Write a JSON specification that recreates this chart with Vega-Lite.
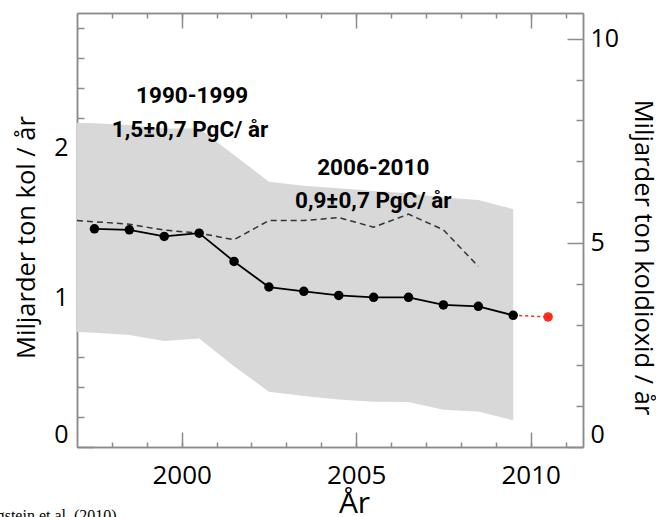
{
  "$schema": "https://vega.github.io/schema/vega-lite/v6.json",
  "width": 506,
  "height": 434,
  "autosize": "none",
  "padding": {"left": 77, "top": 13, "right": 73, "bottom": 70},
  "background": "white",
  "title": {"text": "Friedlingstein et al. (2010)", "orient": "bottom", "anchor": "start", "frame": "group", "font": "Liberation Serif", "fontSize": 16, "fontWeight": "normal", "color": "#000", "dx": -131, "offset": -10},
  "config": {
    "view": {"stroke": null},
    "axis": {"domainColor": "#8c8c8c", "tickColor": "#8c8c8c", "domainWidth": 1.5, "tickWidth": 1.5, "grid": false, "labelFont": "Open Sans", "labelColor": "#000", "titleFont": "Open Sans", "titleFontWeight": "normal", "titleColor": "#000"}
  },
  "datasets": {
    "band": [
      {"year": 1997.0, "lo": 0.769, "hi": 2.167},
      {"year": 1997.5, "lo": 0.763, "hi": 2.163},
      {"year": 1998.5, "lo": 0.749, "hi": 2.151},
      {"year": 1999.5, "lo": 0.709, "hi": 2.129},
      {"year": 2000.5, "lo": 0.725, "hi": 2.129},
      {"year": 2001.5, "lo": 0.54, "hi": 1.951},
      {"year": 2002.5, "lo": 0.369, "hi": 1.773},
      {"year": 2003.5, "lo": 0.34, "hi": 1.745},
      {"year": 2004.5, "lo": 0.318, "hi": 1.729},
      {"year": 2005.5, "lo": 0.303, "hi": 1.711},
      {"year": 2006.5, "lo": 0.3, "hi": 1.696},
      {"year": 2007.5, "lo": 0.249, "hi": 1.667},
      {"year": 2008.5, "lo": 0.238, "hi": 1.651},
      {"year": 2009.5, "lo": 0.178, "hi": 1.589}
    ],
    "sink": [
      {"year": 1997.5, "value": 1.458},
      {"year": 1998.5, "value": 1.451},
      {"year": 1999.5, "value": 1.407},
      {"year": 2000.5, "value": 1.429},
      {"year": 2001.5, "value": 1.24},
      {"year": 2002.5, "value": 1.069},
      {"year": 2003.5, "value": 1.04},
      {"year": 2004.5, "value": 1.013},
      {"year": 2005.5, "value": 1.0},
      {"year": 2006.5, "value": 1.0},
      {"year": 2007.5, "value": 0.949},
      {"year": 2008.5, "value": 0.94},
      {"year": 2009.5, "value": 0.88}
    ],
    "projection": [
      {"year": 2009.5, "value": 0.88},
      {"year": 2010.5, "value": 0.869}
    ],
    "projpoint": [
      {"year": 2010.5, "value": 0.869}
    ],
    "dashed": [
      {"year": 1997.0, "value": 1.513},
      {"year": 1998.5, "value": 1.489},
      {"year": 1999.5, "value": 1.449},
      {"year": 2000.5, "value": 1.429},
      {"year": 2001.5, "value": 1.385},
      {"year": 2002.5, "value": 1.513},
      {"year": 2003.5, "value": 1.513},
      {"year": 2004.5, "value": 1.533},
      {"year": 2005.5, "value": 1.469},
      {"year": 2006.5, "value": 1.556},
      {"year": 2007.5, "value": 1.451},
      {"year": 2008.5, "value": 1.207}
    ],
    "notes": [
      {"year": 2000.3, "value": 2.296, "label": "1990-1999"},
      {"year": 2000.24, "value": 2.073, "label": "1,5±0,7 PgC/ år"},
      {"year": 2005.49, "value": 1.818, "label": "2006-2010"},
      {"year": 2005.49, "value": 1.596, "label": "0,9±0,7 PgC/ år"}
    ],
    "co2range": [
      {"co2": 0},
      {"co2": 10}
    ]
  },
  "resolve": {"scale": {"y": "independent"}, "axis": {"x": "independent", "y": "independent"}},
  "layer": [
    {
      "data": {"name": "band"},
      "mark": {"type": "area", "color": "#d8d8d8", "opacity": 1},
      "encoding": {
        "x": {"field": "year", "type": "quantitative", "scale": {"domain": [1997, 2011.5], "nice": false, "zero": false},
              "axis": {"orient": "bottom", "values": [1998,1999,2000,2001,2002,2003,2004,2005,2006,2007,2008,2009,2010,2011], "tickSize": -5, "labels": false, "title": null}},
        "y": {"field": "lo", "type": "quantitative", "scale": {"domain": [0, 2.9], "nice": false, "zero": false},
              "axis": {"orient": "left", "values": [0.2,0.4,0.6,0.8,1.2,1.4,1.6,1.8,2.2,2.4,2.6,2.8], "tickSize": -7, "labels": false, "title": null}},
        "y2": {"field": "hi"}
      }
    },
    {
      "data": {"name": "dashed"},
      "mark": {"type": "line", "color": "#333333", "strokeWidth": 1.5, "strokeDash": [6, 4]},
      "encoding": {
        "x": {"field": "year", "type": "quantitative", "scale": {"domain": [1997, 2011.5], "nice": false, "zero": false},
              "axis": {"orient": "top", "values": [1998,1999,2000,2001,2002,2003,2004,2005,2006,2007,2008,2009,2010,2011], "tickSize": -5, "labels": false, "title": null}},
        "y": {"field": "value", "type": "quantitative", "scale": {"domain": [0, 2.9], "nice": false, "zero": false}, "axis": null}
      }
    },
    {
      "data": {"name": "projection"},
      "mark": {"type": "line", "color": "#ff2a1a", "strokeWidth": 1.5, "strokeDash": [3, 3]},
      "encoding": {
        "x": {"field": "year", "type": "quantitative", "scale": {"domain": [1997, 2011.5], "nice": false, "zero": false}, "axis": null},
        "y": {"field": "value", "type": "quantitative", "scale": {"domain": [0, 2.9], "nice": false, "zero": false}, "axis": null}
      }
    },
    {
      "data": {"name": "sink"},
      "mark": {"type": "line", "color": "#000000", "strokeWidth": 1.8},
      "encoding": {
        "x": {"field": "year", "type": "quantitative", "scale": {"domain": [1997, 2011.5], "nice": false, "zero": false},
              "axis": {"orient": "bottom", "values": [2000, 2005, 2010], "format": "d", "tickSize": -15, "labelPadding": 30, "labelFontSize": 26, "title": "År", "titleFontSize": 30, "titleX": 277, "titleY": 65, "titleBaseline": "alphabetic"}},
        "y": {"field": "value", "type": "quantitative", "scale": {"domain": [0, 2.9], "nice": false, "zero": false},
              "axis": {"orient": "left", "values": [0, 1, 2], "format": "d", "tickSize": -17, "labelPadding": 26, "labelFontSize": 25, "labelFlush": true, "title": "Miljarder ton kol / år", "titleFontSize": 25.5, "titleX": -51, "titleY": 224, "titleBaseline": "middle"}}
      }
    },
    {
      "data": {"name": "sink"},
      "mark": {"type": "point", "filled": true, "color": "#000000", "size": 90, "opacity": 1},
      "encoding": {
        "x": {"field": "year", "type": "quantitative", "scale": {"domain": [1997, 2011.5], "nice": false, "zero": false},
              "axis": {"orient": "top", "values": [2000, 2005, 2010], "tickSize": -15, "labels": false, "title": null}},
        "y": {"field": "value", "type": "quantitative", "scale": {"domain": [0, 2.9], "nice": false, "zero": false}, "axis": null}
      }
    },
    {
      "data": {"name": "projpoint"},
      "mark": {"type": "point", "filled": true, "color": "#ff2a1a", "size": 90, "opacity": 1},
      "encoding": {
        "x": {"field": "year", "type": "quantitative", "scale": {"domain": [1997, 2011.5], "nice": false, "zero": false}, "axis": null},
        "y": {"field": "value", "type": "quantitative", "scale": {"domain": [0, 2.9], "nice": false, "zero": false}, "axis": null}
      }
    },
    {
      "data": {"name": "notes"},
      "mark": {"type": "text", "font": "Roboto", "fontWeight": "bold", "fontSize": 22.5, "color": "#000", "align": "center", "baseline": "alphabetic"},
      "encoding": {
        "x": {"field": "year", "type": "quantitative", "scale": {"domain": [1997, 2011.5], "nice": false, "zero": false}, "axis": null},
        "y": {"field": "value", "type": "quantitative", "scale": {"domain": [0, 2.9], "nice": false, "zero": false}, "axis": null},
        "text": {"field": "label"}
      }
    },
    {
      "data": {"name": "co2range"},
      "mark": {"type": "rule", "opacity": 0},
      "encoding": {
        "y": {"field": "co2", "type": "quantitative", "scale": {"domain": [0, 10.633], "nice": false, "zero": false},
              "axis": {"orient": "right", "values": [1,2,3,4,6,7,8,9], "tickSize": -7, "labels": false, "title": null}}
      }
    },
    {
      "data": {"name": "co2range"},
      "mark": {"type": "rule", "opacity": 0},
      "encoding": {
        "y": {"field": "co2", "type": "quantitative", "scale": {"domain": [0, 10.633], "nice": false, "zero": false},
              "axis": {"orient": "right", "values": [0, 5, 10], "format": "d", "tickSize": -16, "labelPadding": 23, "labelFontSize": 25, "labelFlush": true, "title": "Miljarder ton koldioxid / år", "titleFontSize": 25.5, "titleX": 59, "titleY": 244, "titleBaseline": "middle"}}
      }
    }
  ]
}
